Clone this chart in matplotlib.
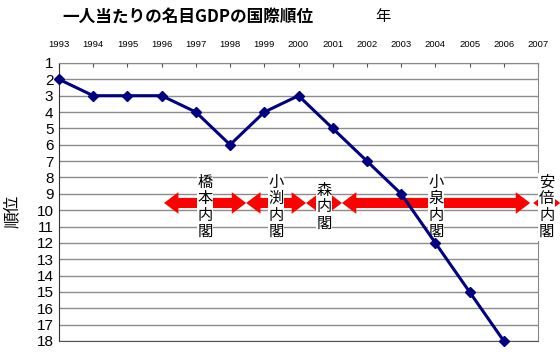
import matplotlib.pyplot as plt
from matplotlib.patches import Polygon

plt.rcParams['font.family'] = ['Liberation Sans', 'Noto Sans CJK JP', 'DejaVu Sans']

years = [1993, 1994, 1995, 1996, 1997, 1998, 1999, 2000, 2001, 2002, 2003, 2004, 2005, 2006]
ranks = [2, 3, 3, 3, 4, 6, 4, 3, 5, 7, 9, 12, 15, 18]
year_ticks = list(range(1993, 2008))
rank_ticks = list(range(1, 19))

cabinets = ['橋本内閣', '小渕内閣', '森内閣', '小泉内閣', '安倍内閣']
cab_start = [1996.07, 1998.47, 2000.22, 2001.27, 2006.86]
cab_end = [1998.47, 2000.22, 2001.27, 2006.77, 2007.65]


def double_arrow(x0, x1, yc, shaft=0.31, head=0.66, hl=0.42):
    pts = [(x0, yc), (x0 + hl, yc - head), (x0 + hl, yc - shaft),
           (x1 - hl, yc - shaft), (x1 - hl, yc - head), (x1, yc),
           (x1 - hl, yc + head), (x1 - hl, yc + shaft),
           (x0 + hl, yc + shaft), (x0 + hl, yc + head)]
    return Polygon(pts, closed=True, facecolor='#ff0000', edgecolor='none',
                   zorder=3, clip_on=False)


def main():
    fig = plt.figure(figsize=(5.6, 3.58), dpi=100)
    ax = fig.add_axes([59 / 560, 1 - 341 / 358, (538 - 59) / 560, (341 - 63) / 358])

    ax.set_xlim(1993, 2007)
    ax.set_ylim(18, 1)

    for r in rank_ticks:
        ax.axhline(r, color='#8c8c8c', lw=1, zorder=1)

    for s, e, name in zip(cab_start, cab_end, cabinets):
        ax.add_patch(double_arrow(s, e, 9.56))
        ax.text((s + e) / 2, 9.8, '\n'.join(name), ha='center', va='center',
                fontsize=11, family=['Noto Sans CJK JP'], linespacing=0.95,
                zorder=4, clip_on=False,
                bbox=dict(facecolor='white', edgecolor='none', pad=0.5))

    ax.plot(years, ranks, color='#000080', lw=2.2, marker='D', markersize=5.5,
            zorder=5, clip_on=False)

    ax.xaxis.tick_top()
    ax.set_xticks(year_ticks)
    ax.set_xticklabels([str(y) for y in year_ticks], fontsize=6.8)
    ax.tick_params(axis='x', direction='in', length=3, pad=10, color='#555555')
    ax.set_yticks(rank_ticks)
    ax.set_yticklabels([str(r) for r in rank_ticks], fontsize=11)
    ax.tick_params(axis='y', length=0, pad=4)

    ax.spines['left'].set_color('#333333')
    ax.spines['bottom'].set_color('#555555')
    ax.spines['right'].set_color('#888888')
    ax.spines['top'].set_color('#888888')

    fig.text(12 / 560, 1 - 211 / 358, '順位', rotation=90, ha='center', va='center',
             fontsize=12, family=['Noto Sans CJK JP'])
    fig.text(188 / 560, 1 - 17 / 358, '一人当たりの名目GDPの国際順位', ha='center', va='center',
             fontsize=12, fontweight='bold', family=['Noto Sans CJK JP'])
    fig.text(383 / 560, 1 - 16 / 358, '年', ha='center', va='center',
             fontsize=11, family=['Noto Sans CJK JP'])

    fig.savefig('out.png', dpi=100)


if __name__ == '__main__':
    main()
